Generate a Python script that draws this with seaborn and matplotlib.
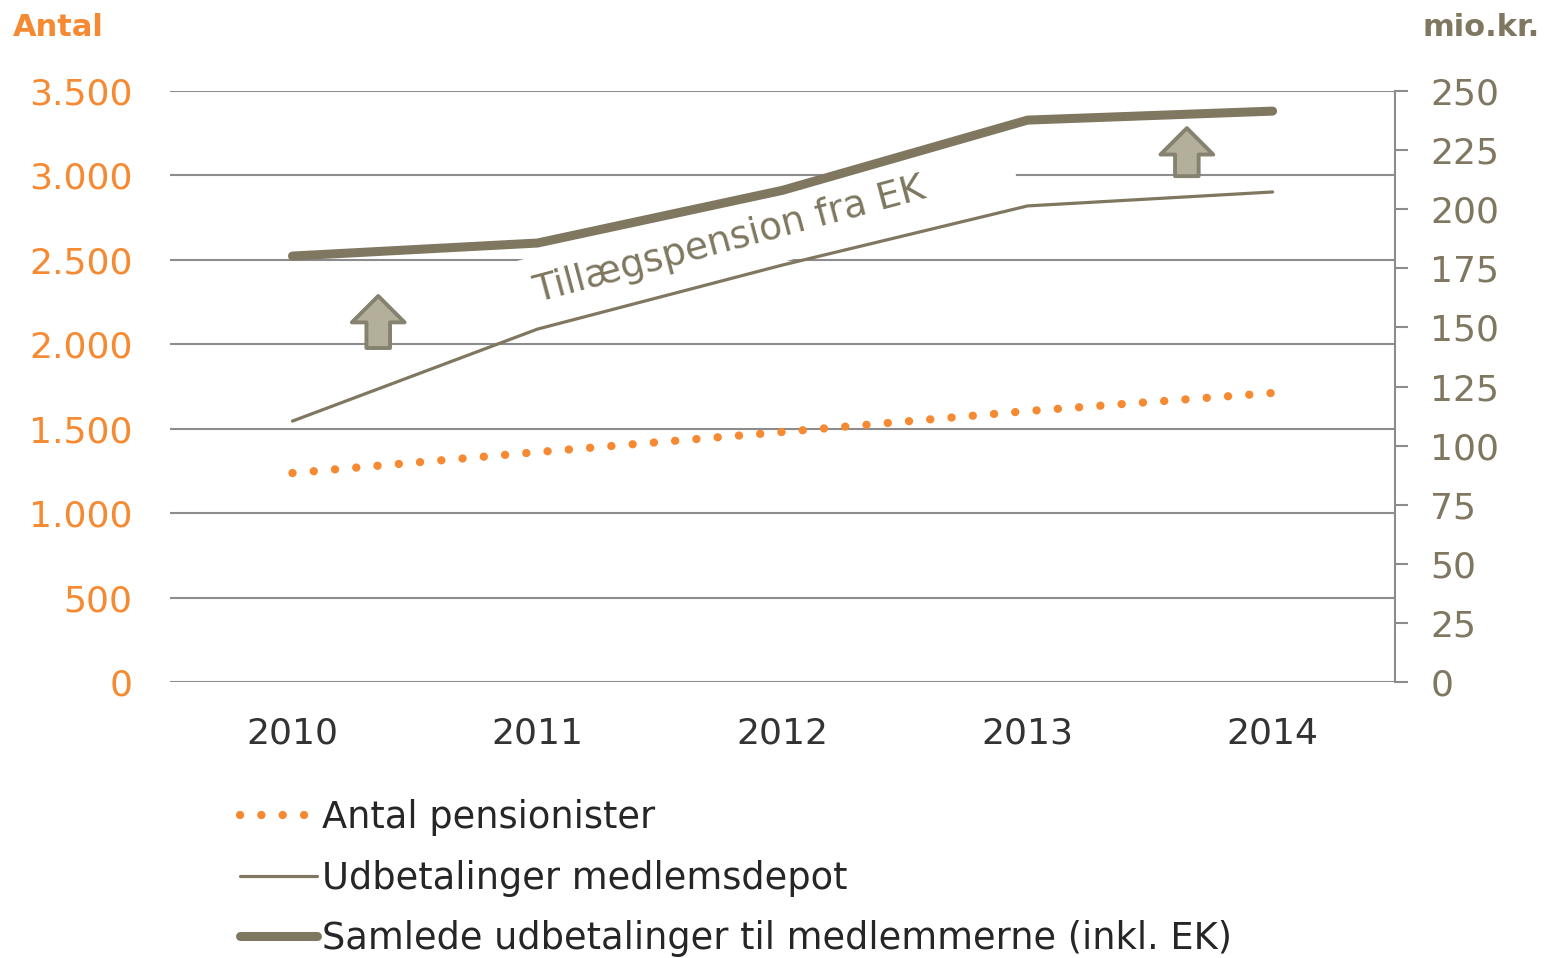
import matplotlib
matplotlib.use("Agg")
import matplotlib.pyplot as plt
import matplotlib.ticker as mticker
import pandas as pd
import seaborn as sns

# data
years = [2010, 2011, 2012, 2013, 2014]
antal_pensionister = [1238, 1362, 1481, 1605, 1712]        # left axis (Antal)
udbet_medlemsdepot = [110.4, 149.3, 176.4, 201.4, 207.3]    # right axis (mio.kr.)
samlede_udbet = [180.2, 185.7, 208.0, 237.7, 241.5]         # right axis (mio.kr.)
left_ticks = [0, 500, 1000, 1500, 2000, 2500, 3000, 3500]
right_ticks = [0, 25, 50, 75, 100, 125, 150, 175, 200, 225, 250]

ORANGE = "#F58A32"
BROWN = "#7F7760"
GRID = "#8C8C8C"

df = pd.DataFrame({"year": years, "antal": antal_pensionister,
                   "depot": udbet_medlemsdepot, "samlet": samlede_udbet})

sns.set_style("white")
plt.rcParams["font.family"] = ["DejaVu Sans"]

fig = plt.figure(figsize=(15.45, 9.58), dpi=100)
ax1 = fig.add_axes([0.110, 0.288, 0.793, 0.617])
ax2 = ax1.twinx()

# left axis: number of pensioners
sns.lineplot(data=df, x="year", y="antal", ax=ax1, color=ORANGE, lw=6,
             linestyle=(0, (0.01, 2.55)), dash_capstyle="round",
             label="Antal pensionister", legend=False)
ax1.set_ylim(0, 3500)
ax1.set_xlim(2009.5, 2014.5)
ax1.set_yticks(left_ticks)
ax1.yaxis.set_major_formatter(mticker.FuncFormatter(lambda v, p: f"{int(v):,}".replace(",", ".")))
ax1.set_xticks(years)
ax1.set_xticklabels([str(y) for y in years])
ax1.grid(axis="y", color=GRID, lw=1.5)
ax1.set_axisbelow(True)
ax1.tick_params(axis="y", length=0, pad=27, labelsize=26, labelcolor=ORANGE)
ax1.tick_params(axis="x", length=0, pad=25, labelsize=26, labelcolor="#333333")
ax1.set_xlabel("")
ax1.set_ylabel("")
for s in ax1.spines.values():
    s.set_visible(False)

# right axis: payouts
sns.lineplot(data=df, x="year", y="depot", ax=ax2, color=BROWN, lw=2.3,
             solid_capstyle="round", label="Udbetalinger medlemsdepot", legend=False)
sns.lineplot(data=df, x="year", y="samlet", ax=ax2, color=BROWN, lw=6.5,
             solid_capstyle="round", label="Samlede udbetalinger til medlemmerne (inkl. EK)",
             legend=False)
ax2.set_ylim(0, 250)
ax2.set_yticks(right_ticks)
ax2.set_ylabel("")
ax2.tick_params(axis="y", length=9.4, width=1.5, color=GRID, pad=16,
                labelsize=26, labelcolor=BROWN)
for k, s in ax2.spines.items():
    s.set_visible(k == "right")
ax2.spines["right"].set_color(GRID)
ax2.spines["right"].set_linewidth(1.5)

# annotation text with white box hiding the gridlines behind it
# (trailing em spaces widen the box to the right, as in the original)
ax2.text(2011.93, 191, "Tillægspension fra EK\u2003\u2003", rotation=15, fontsize=27,
         color=BROWN, ha="center", va="center", rotation_mode="anchor", zorder=1,
         bbox=dict(boxstyle="square,pad=0.45", fc="white", ec="none"))

# up arrows
arrow_kw = dict(arrowstyle="simple,head_length=1.9,head_width=3.8,tail_width=1.7",
                mutation_scale=10, fc="#B3AF9B", ec="#85826F", lw=2.8,
                shrinkA=0, shrinkB=0)
ax2.annotate("", xy=(2010.35, 163.3), xytext=(2010.35, 141.3), arrowprops=arrow_kw, zorder=3)
ax2.annotate("", xy=(2013.65, 234.3), xytext=(2013.65, 214.0), arrowprops=arrow_kw, zorder=3)

# axis titles
fig.text(13 / 1545, 1 - 27 / 958, "Antal", fontsize=22, fontweight="bold",
         color=ORANGE, ha="left", va="center")
fig.text(1540 / 1545, 1 - 27 / 958, "mio.kr.", fontsize=22, fontweight="bold",
         color=BROWN, ha="right", va="center")

h1, l1 = ax1.get_legend_handles_labels()
h2, l2 = ax2.get_legend_handles_labels()
fig.legend(h1 + h2, l1 + l2, loc="upper left", bbox_to_anchor=(240 / 1545, 1 - 799 / 958),
           frameon=False, fontsize=26.5, labelcolor="#262626", handlelength=2.1,
           handletextpad=0.12, labelspacing=0.64, borderpad=0, borderaxespad=0)

fig.savefig("out.png", dpi=100)
